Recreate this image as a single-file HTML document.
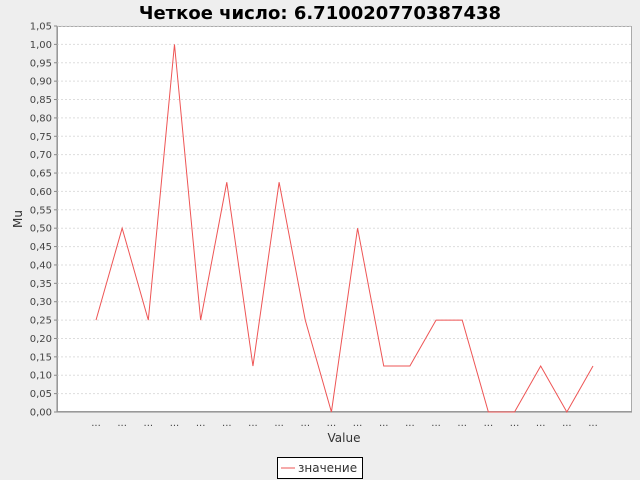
<!DOCTYPE html>
<html><head><meta charset="utf-8"><style>
body{margin:0;background:#eeeeee;}
svg{display:block;font-family:"DejaVu Sans","Liberation Sans",sans-serif;}
</style></head><body>
<svg id="chart" width="640" height="480">
<rect width="640" height="480" fill="#eeeeee"/>
<text x="320" y="19" text-anchor="middle" font-size="18" font-weight="bold" fill="#000">Четкое число: 6.710020770387438</text>
<rect x="57.5" y="26.5" width="574" height="385" fill="#ffffff" stroke="#aaaaaa"/>
<g id="grid"></g>
<g id="yticks"></g>
<g id="xticks"></g>
<line x1="57" y1="26" x2="57" y2="412" stroke="#888"/>
<line x1="57" y1="412" x2="632" y2="412" stroke="#888"/>
<polyline id="series" fill="none" stroke="#ee5555" stroke-width="1"/>
<text x="344" y="442" text-anchor="middle" font-size="12" fill="#333">Value</text>
<text x="22" y="219" text-anchor="middle" font-size="12" fill="#333" transform="rotate(-90 22 219)">Mu</text>
<g>
<rect x="277.5" y="457.5" width="85" height="21" fill="#fff" stroke="#000"/>
<line x1="281" y1="468" x2="295" y2="468" stroke="#ee5555"/>
<text x="298" y="472" font-size="12" fill="#333">значение</text>
</g>
</svg>
<script>
const categories = ["...","...","...","...","...","...","...","...","...","...","...","...","...","...","...","...","...","...","...","..."];
const values = [0.25,0.5,0.25,1.0,0.25,0.625,0.125,0.625,0.25,0,0.5,0.125,0.125,0.25,0.25,0,0,0.125,0,0.125];
const yTicks = [0,0.05,0.1,0.15,0.2,0.25,0.3,0.35,0.4,0.45,0.5,0.55,0.6,0.65,0.7,0.75,0.8,0.85,0.9,0.95,1.0,1.05];
const NS="http://www.w3.org/2000/svg";
const L=57,R=632,T=26,B=412,yMax=1.05,pad=39;
function y(v){return B-(v/yMax)*(B-T);}
function x(i){return L+pad+i*((R-L-2*pad)/(categories.length-1));}
const grid=document.getElementById('grid'),yt=document.getElementById('yticks'),xt=document.getElementById('xticks');
yTicks.forEach(v=>{
 const g=document.createElementNS(NS,'line');
 g.setAttribute('x1',L);g.setAttribute('x2',R);g.setAttribute('y1',y(v));g.setAttribute('y2',y(v));
 g.setAttribute('stroke','#dddddd');g.setAttribute('stroke-dasharray','2,2');
 
 
 grid.appendChild(g);
 const tk=document.createElementNS(NS,'line');
 tk.setAttribute('x1',L-3);tk.setAttribute('x2',L);tk.setAttribute('y1',y(v));tk.setAttribute('y2',y(v));tk.setAttribute('stroke','#888');
 
 
 yt.appendChild(tk);
 const t=document.createElementNS(NS,'text');
 t.setAttribute('x',L-5);t.setAttribute('y',y(v)+3.5);t.setAttribute('text-anchor','end');t.setAttribute('font-size','10');t.setAttribute('fill','#444');
 t.textContent=v.toFixed(2).replace('.',',');
 
 
 yt.appendChild(t);
});
categories.forEach((c,i)=>{
 const t=document.createElementNS(NS,'text');
 t.setAttribute('x',x(i));t.setAttribute('y',426);t.setAttribute('text-anchor','middle');t.setAttribute('font-size','10');t.setAttribute('fill','#444');
 t.textContent=c;
 
 
 xt.appendChild(t);
});
document.getElementById('series').setAttribute('points',values.map((v,i)=>x(i)+','+y(v)).join(' '));
</script>
</body></html>
